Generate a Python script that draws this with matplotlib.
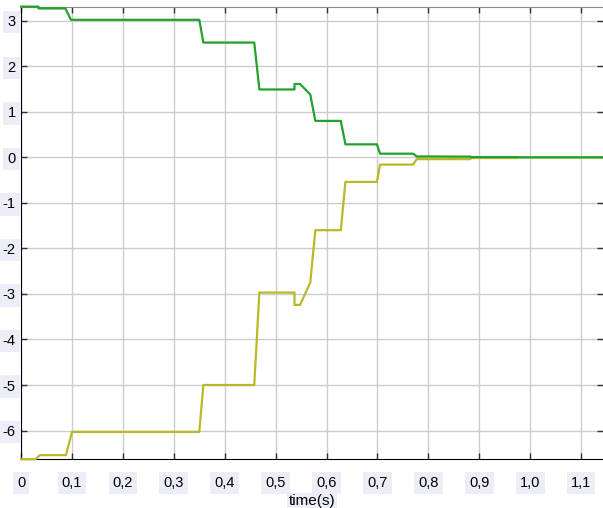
import matplotlib
matplotlib.use("Agg")
import matplotlib.pyplot as plt
import numpy as np

plt.rcParams['font.family'] = ['Liberation Sans', 'DejaVu Sans']
plt.rcParams['axes.unicode_minus'] = False

# step response of the two states (time in s)
t_green = [0, 0.034, 0.034, 0.087, 0.098, 0.350, 0.358, 0.458, 0.468, 0.537, 0.537,
           0.548, 0.568, 0.578, 0.628, 0.637, 0.699, 0.705, 0.770, 0.777, 0.882,
           0.885, 0.975, 0.980, 1.15]
v_green = [3.31, 3.31, 3.27, 3.27, 3.02, 3.02, 2.52, 2.52, 1.49, 1.49, 1.61,
           1.61, 1.38, 0.80, 0.80, 0.285, 0.285, 0.08, 0.08, 0.02, 0.015,
           0.005, 0.005, 0.0, 0.0]

t_yellow = [0, 0.028, 0.037, 0.088, 0.100, 0.350, 0.358, 0.458, 0.468, 0.537, 0.537,
            0.548, 0.568, 0.578, 0.628, 0.637, 0.699, 0.705, 0.770, 0.777, 0.882,
            0.885, 0.975, 0.980, 1.15]
v_yellow = [-6.63, -6.63, -6.54, -6.54, -6.03, -6.03, -5.0, -5.0, -2.97, -2.97, -3.24,
            -3.24, -2.75, -1.60, -1.60, -0.54, -0.54, -0.16, -0.16, -0.04, -0.04,
            -0.015, -0.015, 0.0, 0.0]

x_ticks = [0, 0.1, 0.2, 0.3, 0.4, 0.5, 0.6, 0.7, 0.8, 0.9, 1.0, 1.1]
x_tick_labels = ["0", "0,1", "0,2", "0,3", "0,4", "0,5", "0,6", "0,7", "0,8", "0,9", "1,0", "1,1"]
y_ticks = [3, 2, 1, 0, -1, -2, -3, -4, -5, -6]

fig = plt.figure(figsize=(6.03, 5.08), dpi=100)
ax = fig.add_axes([0.035, 0.096, 0.965, 0.891])

ax.plot(t_yellow, v_yellow, color='#b9b928', lw=1.6, zorder=3, clip_on=False)
ax.plot(t_green, v_green, color='#22a12c', lw=1.6, zorder=4, clip_on=False)

ax.set_xlim(0, 1.143)
ax.set_ylim(-6.63, 3.31)
ax.set_xticks(x_ticks)
ax.set_xticklabels(x_tick_labels)
ax.set_yticks(y_ticks)
ax.set_yticklabels([str(v) for v in y_ticks])

ax.grid(True, color='#cccccc', lw=1)
ax.tick_params(direction='in', length=4, width=1, color='#333333',
               top=True, right=True, labelsize=10.5)
ax.tick_params(axis='x', pad=12)
ax.tick_params(axis='y', pad=4)

# pale boxes behind the tick labels
for lab in ax.get_xticklabels() + ax.get_yticklabels():
    lab.set_bbox(dict(facecolor='#ededf8', edgecolor='none', pad=3))

ax.spines['left'].set_color('black')
ax.spines['bottom'].set_color('black')
ax.spines['top'].set_color('#888888')
ax.spines['right'].set_visible(False)

ax.set_xlabel('time(s)', fontsize=11, labelpad=3)
ax.xaxis.label.set_bbox(dict(facecolor='#ededf8', edgecolor='none', pad=1))

fig.savefig('out.png', dpi=100)
